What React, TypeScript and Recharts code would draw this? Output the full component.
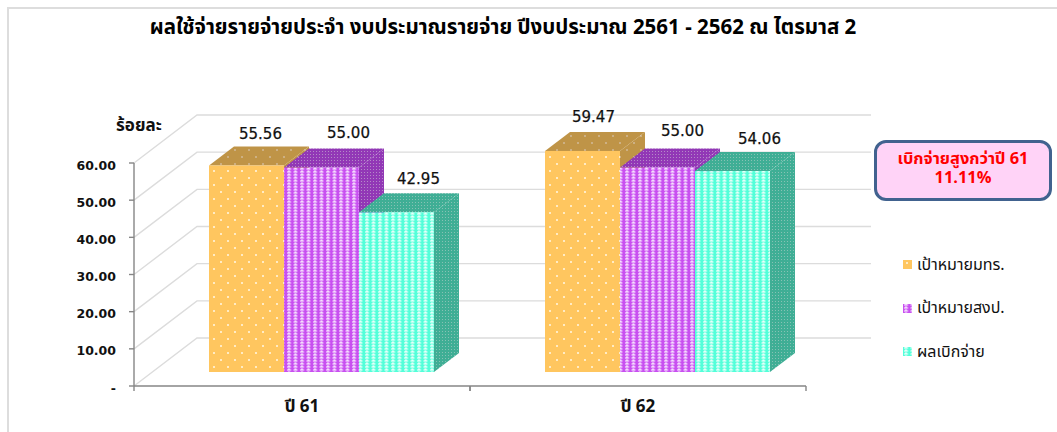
import React from "react";
import { BarChart, Bar, XAxis, YAxis, CartesianGrid, Legend } from "recharts";

const title = "ผลใช้จ่ายรายจ่ายประจำ งบประมาณรายจ่าย ปีงบประมาณ 2561 - 2562 ณ ไตรมาส 2";
const unitLabel = "ร้อยละ";
const calloutLines = ["เบิกจ่ายสูงกว่าปี 61", "11.11%"];
const categories = ["ปี 61", "ปี 62"];
const seriesNames = ["เป้าหมายมทร.", "เป้าหมายสงป.", "ผลเบิกจ่าย"];
const targetUni = [55.56, 59.47];
const targetBudget = [55.0, 55.0];
const actual = [42.95, 54.06];
const yTicks = [0, 10, 20, 30, 40, 50, 60];

const rows = categories.map((name, i) => ({
  name,
  a: targetUni[i],
  b: targetBudget[i],
  c: actual[i],
}));

const FONT = '"DejaVu Sans", "Noto Sans", sans-serif';
const THAI = 'Tahoma, "Noto Sans Thai", "Noto Sans", "DejaVu Sans", sans-serif';

// 3D projection of the drawing
const SHIFT_X = 19;
const SHIFT_Y = -14;
const DEPTH_X = 25;
const DEPTH_Y = 19;
const WALL_X = 63;
const WALL_Y = 48;
const WALL_END = 871;

// hand placed data labels [series][category] : dx from bar centre, dy above bar top
const labelNudge = [
  [[14, 32], [11, 34]],
  [[27, 35], [25, 37]],
  [[22, 33], [27, 32]],
];

function dotPattern(id: string, base: string, dot: string) {
  return (
    <pattern id={id} width="14" height="14" patternUnits="userSpaceOnUse" key={id}>
      <rect width="14" height="14" fill={base} />
      <rect x="3" y="2" width="2" height="2" fill={dot} />
      <rect x="10" y="9" width="2" height="2" fill={dot} />
    </pattern>
  );
}

function stripePattern(id: string, base: string, light: string, mid: string) {
  return (
    <pattern id={id} width="6.5" height="3" patternUnits="userSpaceOnUse" key={id}>
      <rect width="6.5" height="3" fill={base} />
      <rect x="2" y="0" width="2" height="3" fill={mid} />
      <rect x="1" y="0" width="4" height="2" fill={mid} />
      <rect x="2" y="0" width="2" height="1" fill={light} />
    </pattern>
  );
}

function stipple(id: string, base: string, dot: string) {
  return (
    <pattern id={id} width="3" height="3" patternUnits="userSpaceOnUse" key={id}>
      <rect width="3" height="3" fill={base} />
      <rect x="1" y="1" width="1" height="1" fill={dot} />
    </pattern>
  );
}

const Defs = () => (
  <svg width="0" height="0" style={{ position: "absolute" }}>
    <defs>
      {dotPattern("f0", "#FFC65F", "#FFEBC4")}
      {dotPattern("d0", "#BF9447", "#CDB083")}
      {stripePattern("f1", "#C84FF0", "#F6E3FD", "#E5A8FA")}
      {stipple("d1", "#9238B6", "#B58AC8")}
      {stripePattern("f2", "#52FFD9", "#EDFFFA", "#B0FFEE")}
      {stipple("d2", "#3FAE95", "#86C2B4")}
    </defs>
  </svg>
);

function makeShape(s: number) {
  return (p: any) => {
    const x = p.x + SHIFT_X;
    const y = p.y + SHIFT_Y;
    const w = p.width;
    const h = p.height;
    return (
      <g>
        <polygon
          points={`${x + w},${y} ${x + w + DEPTH_X},${y - DEPTH_Y} ${x + w + DEPTH_X},${y + h - DEPTH_Y} ${x + w},${y + h}`}
          fill={`url(#d${s})`}
        />
        <polygon
          points={`${x},${y} ${x + DEPTH_X},${y - DEPTH_Y} ${x + w + DEPTH_X},${y - DEPTH_Y} ${x + w},${y}`}
          fill={`url(#d${s})`}
        />
        <rect x={x} y={y} width={w} height={h} fill={`url(#f${s})`} />
      </g>
    );
  };
}

function makeLabel(s: number) {
  return (p: any) => {
    const [dx, dy] = labelNudge[s][p.index];
    return (
      <text
        x={p.x + SHIFT_X + p.width / 2 + dx}
        y={p.y + SHIFT_Y - dy}
        textAnchor="middle"
        dominantBaseline="central"
        fontFamily={FONT}
        fontSize={15}
        stroke="#111"
        strokeWidth={0.25}
        fill="#111"
      >
        {Number(p.value).toFixed(2)}
      </text>
    );
  };
}

const wallLine = (p: any) => (
  <polyline
    key={p.key}
    points={`${p.x1},${p.y1} ${p.x1 + WALL_X},${p.y1 - WALL_Y} ${WALL_END},${p.y1 - WALL_Y}`}
    fill="none"
    stroke="#DCDCDC"
    strokeWidth={1.4}
  />
);

const XTick = (p: any) => {
  const half = p.width / categories.length / 2;
  const top = p.y - 8;
  return (
    <g>
      <line x1={p.x - half} x2={p.x - half} y1={top} y2={top + 5} stroke="#868686" strokeWidth={1.4} />
      <line x1={p.x + half} x2={p.x + half} y1={top} y2={top + 5} stroke="#868686" strokeWidth={1.4} />
      <text x={p.x} y={p.y + 13} textAnchor="middle" dominantBaseline="central" fontFamily={THAI} fontWeight={700} fontSize={17} fill="#111">
        {p.payload.value}
      </text>
    </g>
  );
};

const YTick = (p: any) => (
  <text
    x={p.x}
    y={p.y + 2}
    textAnchor="end"
    dominantBaseline="central"
    fontFamily={FONT}
    fontWeight={700}
    fontSize={12.5}
    fill="#111"
  >
    {p.payload.value === 0 ? "-" : Number(p.payload.value).toFixed(2)}
  </text>
);

const LegendBox = (p: any) => (
  <div>
    {(p.payload || []).map((e: any, i: number) => (
      <div key={i} style={{ height: 43.5, display: "flex", alignItems: "center", fontFamily: THAI, fontSize: 16, color: "#111", whiteSpace: "nowrap" }}>
        <svg width="9" height="9" style={{ marginRight: 5 }}>
          <rect width="9" height="9" fill={`url(#f${i})`} />
        </svg>
        {e.value}
      </div>
    ))}
  </div>
);

export default function App() {
  return (
    <div style={{ position: "absolute", left: 0, top: 0, width: 1057, height: 432, overflow: "hidden", background: "#fff" }}>
      <Defs />
      <div style={{ position: "absolute", left: 8, top: 7, right: 0, height: 2, background: "#DDDDDD" }} />
      <div style={{ position: "absolute", left: 7, top: 7, bottom: 0, width: 2, background: "#DDDDDD" }} />
      <BarChart
        width={1057}
        height={432}
        data={rows}
        margin={{ top: 163, right: 251, bottom: 0, left: 0 }}
        barSize={75}
        barGap={0}
      >
        <CartesianGrid horizontal={wallLine} vertical={false} />
        <XAxis
          dataKey="name"
          height={46}
          axisLine={{ stroke: "#868686", strokeWidth: 1.4 }}
          tickLine={false}
          tick={<XTick />}
          interval={0}
        />
        <YAxis
          width={134}
          domain={[0, 60]}
          ticks={yTicks}
          interval={0}
          axisLine={{ stroke: "#868686", strokeWidth: 1.4 }}
          tickLine={{ stroke: "#868686", strokeWidth: 1.4 }}
          tickSize={5}
          tickMargin={13}
          tick={<YTick />}
        />
        <Legend
          content={<LegendBox />}
          layout="vertical"
          align="center"
          verticalAlign="middle"
          itemSorter={null as any}
          wrapperStyle={{ position: "absolute", left: 903, top: 243, width: 150, bottom: "auto", right: "auto" }}
        />
        <Bar dataKey="a" name={seriesNames[0]} isAnimationActive={false} shape={makeShape(0)} label={makeLabel(0)} />
        <Bar dataKey="b" name={seriesNames[1]} isAnimationActive={false} shape={makeShape(1)} label={makeLabel(1)} />
        <Bar dataKey="c" name={seriesNames[2]} isAnimationActive={false} shape={makeShape(2)} label={makeLabel(2)} />
      </BarChart>
      <div style={{ position: "absolute", left: 0, width: 1006, top: 12, textAlign: "center", fontFamily: THAI, fontWeight: 700, fontSize: 20.5, color: "#000", whiteSpace: "nowrap" }}>
        {title}
      </div>
      <div style={{ position: "absolute", left: 116, top: 113, fontFamily: THAI, fontWeight: 700, fontSize: 17, color: "#111" }}>
        {unitLabel}
      </div>
      <div
        style={{
          position: "absolute",
          left: 874,
          top: 140,
          width: 178,
          height: 61,
          boxSizing: "border-box",
          border: "3px solid #41628F",
          borderRadius: 12,
          background: "#FFD3F7",
          color: "#FF0000",
          fontFamily: THAI,
          fontWeight: 700,
          fontSize: 16.4,
          lineHeight: "18.5px",
          textAlign: "center",
          paddingTop: 7,
        }}
      >
        {calloutLines[0]}
        <br />
        {calloutLines[1]}
      </div>
    </div>
  );
}
